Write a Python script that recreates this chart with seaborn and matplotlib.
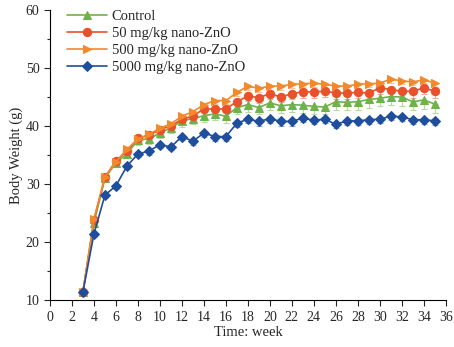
import numpy as np
import pandas as pd
import seaborn as sns
import matplotlib.pyplot as plt
from matplotlib.ticker import MultipleLocator

# data
weeks = list(range(3, 36))
control = [11.4, 23.3, 31.0, 33.7, 35.2, 37.6, 37.8, 38.8, 39.7, 40.9, 41.3, 41.8, 42.1,
           41.7, 43.2, 43.7, 43.2, 44.0, 43.5, 43.7, 43.6, 43.4, 43.3, 44.2, 44.1, 44.2,
           44.6, 44.8, 45.1, 45.0, 44.2, 44.5, 43.8]
zno_50 = [11.4, 23.8, 31.2, 34.0, 35.7, 37.9, 38.4, 39.4, 40.0, 41.2, 41.7, 43.0, 42.9,
          43.0, 44.2, 45.2, 44.9, 45.6, 45.0, 45.6, 45.9, 45.9, 46.0, 45.7, 45.7, 45.8,
          45.7, 46.6, 46.3, 46.0, 46.0, 46.6, 46.0]
zno_500 = [11.4, 24.0, 31.2, 33.8, 36.0, 37.8, 38.6, 39.6, 40.4, 41.7, 42.5, 43.7, 44.4,
           44.4, 45.8, 46.9, 46.5, 46.9, 46.9, 47.2, 47.3, 47.4, 47.2, 46.9, 46.9, 47.2,
           47.3, 47.4, 48.1, 47.8, 47.6, 48.0, 47.4]
zno_5000 = [11.4, 21.4, 28.1, 29.7, 33.1, 35.2, 35.7, 36.8, 36.4, 38.2, 37.4, 38.8, 38.2,
            38.2, 40.5, 41.2, 40.8, 41.3, 40.8, 40.8, 41.4, 41.0, 41.2, 40.3, 40.9, 40.9,
            41.1, 41.2, 41.7, 41.6, 41.1, 41.1, 40.9]
err_control = [0.3, 0.6, 0.6, 0.6, 0.7, 0.8, 0.8, 0.9, 0.9, 1.0, 1.0, 1.1, 1.1,
               1.1, 1.2, 1.2, 1.2, 1.3, 1.3, 1.3, 1.3, 1.3, 1.3, 1.4, 1.4, 1.4,
               1.4, 1.4, 1.5, 1.5, 1.5, 1.5, 1.5]
err_50 = [0.3, 0.5, 0.5, 0.5, 0.6, 0.6, 0.6, 0.7, 0.7, 0.7, 0.8, 0.8, 0.8,
          0.8, 0.9, 0.9, 0.9, 0.9, 0.9, 1.0, 1.0, 1.0, 1.0, 1.0, 1.0, 1.0,
          1.0, 1.1, 1.1, 1.1, 1.1, 1.1, 1.1]
err_500 = [0.3, 0.4, 0.4, 0.4, 0.4, 0.5, 0.5, 0.5, 0.5, 0.5, 0.5, 0.6, 0.6,
           0.6, 0.6, 0.6, 0.6, 0.6, 0.6, 0.6, 0.6, 0.6, 0.6, 0.6, 0.6, 0.6,
           0.6, 0.6, 0.6, 0.6, 0.6, 0.6, 0.6]
err_5000 = [0.3, 0.5, 0.5, 0.5, 0.5, 0.6, 0.6, 0.6, 0.6, 0.6, 0.6, 0.7, 0.7,
            0.7, 0.7, 0.7, 0.7, 0.7, 0.7, 0.7, 0.7, 0.7, 0.7, 0.7, 0.7, 0.7,
            0.7, 0.7, 0.7, 0.7, 0.7, 0.7, 0.7]

labels = ["Control", "50 mg/kg nano-ZnO", "500 mg/kg nano-ZnO", "5000 mg/kg nano-ZnO"]
series = [control, zno_50, zno_500, zno_5000]
errors = [err_control, err_50, err_500, err_5000]
colors = ["#6fb24a", "#e9512b", "#f2892c", "#1f4f9c"]
err_colors = ["#b5d9a0", "#f2a893", "#f7c497", "#8ea8d0"]
markers = ["^", "o", ">", "D"]
sizes = [6, 6, 6, 5.5]

sns.set_style("ticks")
plt.rcParams["font.family"] = ["Liberation Serif", "DejaVu Serif"]

fig = plt.figure(figsize=(4.54, 3.47), dpi=100)
ax = fig.add_axes([0.110, 0.135, 0.872, 0.836])

# error bars first (one-sided, below), then lines on top
for vals, err, ec, z in zip(series, errors, err_colors, [2, 3, 4, 5]):
    ax.errorbar(weeks, vals, yerr=[err, [0] * len(err)], fmt="none",
                ecolor=ec, elinewidth=0.8, capsize=2.5, capthick=0.8, zorder=z)

for lab, vals, c, m, s, z in zip(labels, series, colors, markers, sizes, [6, 7, 8, 9]):
    df = pd.DataFrame({"week": weeks, "weight": vals})
    sns.lineplot(data=df, x="week", y="weight", ax=ax, color=c, marker=m,
                 markersize=s, markeredgecolor=c, linewidth=1.2, label=lab,
                 zorder=z)

ax.set_xlim(0, 36)
ax.set_ylim(10, 60)
ax.xaxis.set_major_locator(MultipleLocator(2))
ax.yaxis.set_major_locator(MultipleLocator(10))
ax.yaxis.set_minor_locator(MultipleLocator(5))
ax.tick_params(which="major", direction="out", length=4, width=0.8, labelsize=10)
ax.tick_params(which="minor", direction="out", length=2.5, width=0.8)
ax.set_xlabel("Time: week", fontsize=10.5, labelpad=2)
ax.set_ylabel("Body Weight (g)", fontsize=10.5, labelpad=2)
for sp in ["top", "right"]:
    ax.spines[sp].set_visible(False)
for sp in ["left", "bottom"]:
    ax.spines[sp].set_linewidth(0.8)
    ax.spines[sp].set_color("black")

ax.legend(loc="upper left", frameon=False, fontsize=10.5, handlelength=2.8,
          handletextpad=0.3, labelspacing=0.25, borderaxespad=0.2,
          bbox_to_anchor=(0.02, 1.03))

fig.savefig("out.png", dpi=100)
plt.close(fig)
